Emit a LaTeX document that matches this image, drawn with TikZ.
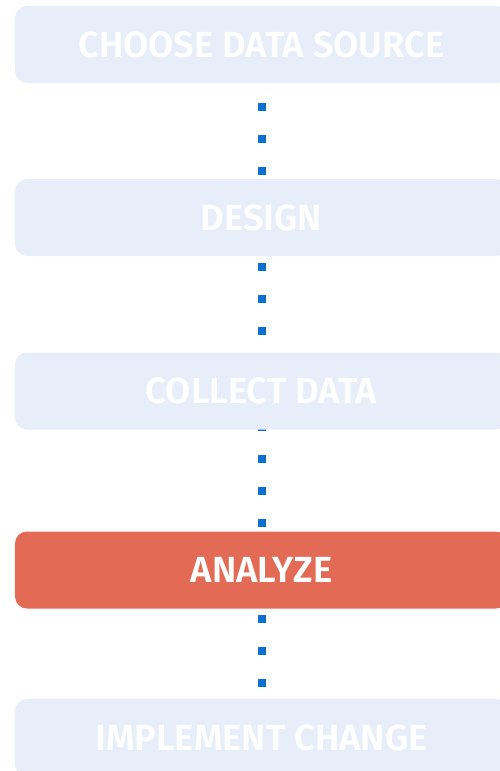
\documentclass[tikz,border=0pt]{standalone}
\usepackage{fontspec}
\newfontfamily\labelfont{Fira Sans SemiBold}
\definecolor{stepfill}{HTML}{E7EEF9}
\definecolor{activefill}{HTML}{E36B56}
\definecolor{dotblue}{HTML}{0B6FD0}
\begin{document}
\begin{tikzpicture}[x=1bp,y=-1bp,
  stepbox/.style={rectangle, rounded corners=12bp, fill=stepfill,
    minimum width=493bp, minimum height=77bp, inner sep=0pt,
    text=white, font=\labelfont\fontsize{36.5}{36.5}\selectfont},
  activebox/.style={stepbox, fill=activefill},
  dotline/.style={draw=dotblue, line width=8bp, line cap=butt,
    dash pattern=on 8bp off 24bp, dash phase=5.5bp}]
  \useasboundingbox (0,0) rectangle (500,771);
  \clip (0,0) rectangle (500,771);
  % anchor points for the step boxes
  \coordinate (c1) at (261.5,44.5);
  \coordinate (c5) at (261.5,737.5);
  % dotted spine running behind every step
  \draw[dotline] (c1) -- (c5);
  \node[stepbox]   (b1) at (c1) {CHOOSE DATA SOURCE};
  \node[stepbox]   (b2) at (261.5,217.5) {DESIGN};
  \node[stepbox]   (b3) at (261.5,391) {COLLECT DATA};
  \node[activebox] (b4) at (261.5,570) {ANALYZE};
  \node[stepbox]   (b5) at (c5) {IMPLEMENT CHANGE};
\end{tikzpicture}
\end{document}
